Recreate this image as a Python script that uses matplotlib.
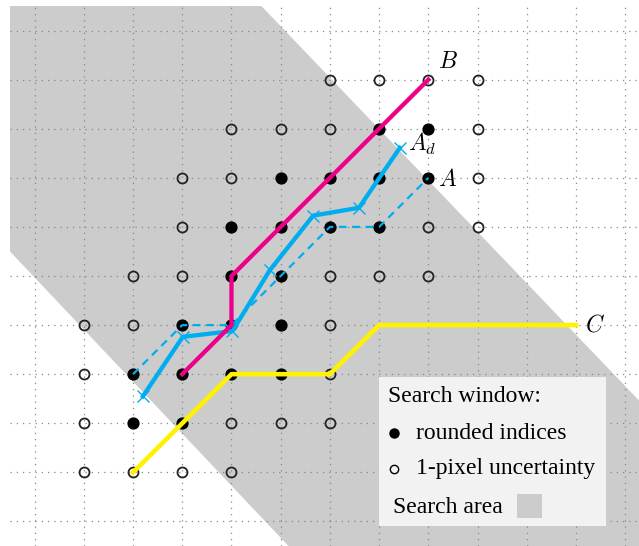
import matplotlib
matplotlib.use('Agg')
import matplotlib.pyplot as plt
from matplotlib.patches import Polygon, Rectangle

plt.rcParams['mathtext.fontset'] = 'cm'
plt.rcParams['font.family'] = ['Liberation Serif', 'DejaVu Serif']

# pixel grid: columns / rows
n_cols = 13
n_rows = 11

# search window, rounded indices (col, row)
filled_cols = [7, 8, 5, 6, 7, 8, 4, 5, 6, 7, 4, 5, 3, 4, 5, 2, 3, 4, 5, 2, 3]
filled_rows = [2, 2, 3, 3, 3, 3, 4, 4, 4, 4, 5, 5, 6, 6, 6, 7, 7, 7, 7, 8, 8]

# 1-pixel uncertainty ring
open_cols = [6, 7, 8, 9, 4, 5, 6, 9, 3, 4, 9, 3, 8, 9, 2, 3, 6, 7, 8,
             1, 2, 6, 1, 6, 1, 4, 5, 6, 1, 2, 3, 4]
open_rows = [1, 1, 1, 1, 2, 2, 2, 2, 3, 3, 3, 4, 4, 4, 5, 5, 5, 5, 5,
             6, 6, 6, 7, 7, 8, 8, 8, 8, 9, 9, 9, 9]

# paths
path_b_x = [3, 4, 4, 5, 6, 7, 8]
path_b_y = [7, 6, 5, 4, 3, 2, 1]
path_a_x = [2, 3, 4, 5, 6, 7, 8]
path_a_y = [7, 6, 6, 5, 4, 4, 3]
path_ad_x = [2.2, 3.01, 4.02, 4.78, 5.66, 6.59, 7.42]
path_ad_y = [7.45, 6.24, 6.12, 4.88, 3.77, 3.61, 2.39]
path_c_x = [2, 4, 6, 7, 11]
path_c_y = [9, 7, 7, 6, 6]

# search area band
area_x = [-1, 4.13, 13, 13, 5.63, -1]
area_y = [-1, -1, 8.29, 11, 11, 3.97]

magenta = '#ec008c'
cyan = '#00aeef'
yellow = '#fff200'
area_gray = '#cccccc'

fig = plt.figure(figsize=(6.39, 5.46), dpi=100)
ax = fig.add_axes([10 / 639, 0, 629 / 639, 540 / 546])
ax.set_xlim(-0.5, 12.28)
ax.set_ylim(10.5, -0.5)

ax.add_patch(Polygon(list(zip(area_x, area_y)), closed=True,
                     facecolor=area_gray, edgecolor='none', zorder=0))

ax.set_xticks(range(n_cols))
ax.set_yticks(range(n_rows))
ax.set_axisbelow(True)
ax.grid(True, color='#888888', linewidth=0.9, linestyle=(0, (1, 4)))
ax.tick_params(length=0, labelbottom=False, labelleft=False)
for s in ax.spines.values():
    s.set_visible(False)

ax.plot(open_cols, open_rows, 'o', ms=7.2, mfc='none', mec='#222222', mew=1.3,
        zorder=3)
ax.plot(filled_cols, filled_rows, 'o', ms=7.8, color='black', zorder=3)

ax.plot(path_a_x, path_a_y, color=cyan, lw=1.6, ls=(0, (3.5, 2.5)), zorder=4)
ax.plot(path_ad_x, path_ad_y, color=cyan, lw=3.1, marker='x', ms=9, mew=1,
        zorder=5)
ax.plot(path_b_x, path_b_y, color=magenta, lw=3.1, zorder=6)
ax.plot(path_c_x, path_c_y, color=yellow, lw=3.3, zorder=6)

lab = dict(textcoords='offset pixels', fontsize=17, ha='left', va='center')
ax.annotate('$B$', (path_b_x[-1], path_b_y[-1]), xytext=(10, 17), **lab)
ax.annotate('$A_d$', (path_ad_x[-1], path_ad_y[-1]), xytext=(8, 4), **lab)
ax.annotate('$A$', (path_a_x[-1], path_a_y[-1]), xytext=(10, -2), **lab)
ax.annotate('$C$', (path_c_x[-1], path_c_y[-1]), xytext=(9, 0), **lab)

# legend box
ax.add_patch(Rectangle((0.587, 0.037), 0.361, 0.276, transform=ax.transAxes,
                       facecolor='#f2f2f2', edgecolor='none', zorder=7))
ax.text(0.601, 0.276, 'Search window:', transform=ax.transAxes,
        fontsize=17, va='center', zorder=8)
ax.plot([0.610], [0.209], 'o', ms=6.5, color='black',
        transform=ax.transAxes, zorder=8)
ax.text(0.645, 0.209, 'rounded indices', transform=ax.transAxes,
        fontsize=17, va='center', zorder=8)
ax.plot([0.610], [0.143], 'o', ms=6, mfc='none', mec='black', mew=1,
        transform=ax.transAxes, zorder=8)
ax.text(0.645, 0.143, '1-pixel uncertainty', transform=ax.transAxes,
        fontsize=17, va='center', zorder=8)
ax.text(0.609, 0.072, 'Search area', transform=ax.transAxes,
        fontsize=17, va='center', zorder=8)
ax.add_patch(Rectangle((0.806, 0.052), 0.040, 0.044, transform=ax.transAxes,
                       facecolor=area_gray, edgecolor='none', zorder=8))

fig.savefig('out.png', dpi=100)
